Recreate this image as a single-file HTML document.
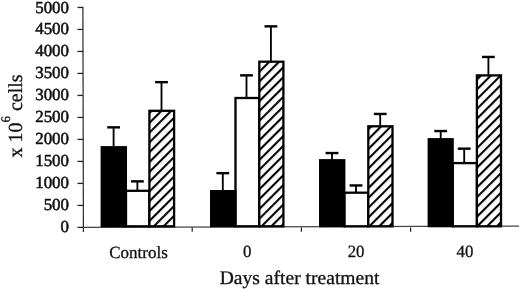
<!DOCTYPE html>
<html><head><meta charset="utf-8"><style>
html,body{margin:0;padding:0;background:#fff;}
body{width:520px;height:289px;overflow:hidden;}
svg{display:block;filter:blur(0.35px);}
text{font-family:"Liberation Serif",serif;fill:#111;stroke:#111;stroke-width:0.3px;text-rendering:geometricPrecision;}
</style></head><body>
<svg width="520" height="289" viewBox="0 0 520 289">
<defs>
<pattern id="h" patternUnits="userSpaceOnUse" x="4.394722215136416" y="0" width="6.930" height="6.930" patternTransform="rotate(45.000)">
<rect x="0" y="0" width="6.930" height="6.930" fill="#fff"/>
<rect x="0" y="0" width="2.1" height="6.930" fill="#000"/>
</pattern>
</defs>

<line x1="82.9" y1="6.8500000000000005" x2="83.4" y2="232" stroke="#2a2a2a" stroke-width="1.2"/>
<line x1="83.0" y1="227.4" x2="519" y2="226.1" stroke="#444" stroke-width="1.3"/>
<line x1="77.5" y1="227.40" x2="83.0" y2="227.40" stroke="#222" stroke-width="1.3"/>
<text transform="translate(69.0,232.45)" font-size="16.9" text-anchor="end" style="stroke-width:0.55px">0</text>
<line x1="77.5" y1="205.41" x2="83.0" y2="205.41" stroke="#222" stroke-width="1.3"/>
<text transform="translate(69.0,210.46)" font-size="16.9" text-anchor="end" style="stroke-width:0.55px">500</text>
<line x1="77.5" y1="183.41" x2="83.0" y2="183.41" stroke="#222" stroke-width="1.3"/>
<text transform="translate(69.0,188.46)" font-size="16.9" text-anchor="end" style="stroke-width:0.55px">1000</text>
<line x1="77.5" y1="161.42" x2="83.0" y2="161.42" stroke="#222" stroke-width="1.3"/>
<text transform="translate(69.0,166.47)" font-size="16.9" text-anchor="end" style="stroke-width:0.55px">1500</text>
<line x1="77.5" y1="139.42" x2="83.0" y2="139.42" stroke="#222" stroke-width="1.3"/>
<text transform="translate(69.0,144.47)" font-size="16.9" text-anchor="end" style="stroke-width:0.55px">2000</text>
<line x1="77.5" y1="117.43" x2="83.0" y2="117.43" stroke="#222" stroke-width="1.3"/>
<text transform="translate(69.0,122.48)" font-size="16.9" text-anchor="end" style="stroke-width:0.55px">2500</text>
<line x1="77.5" y1="95.43" x2="83.0" y2="95.43" stroke="#222" stroke-width="1.3"/>
<text transform="translate(69.0,100.48)" font-size="16.9" text-anchor="end" style="stroke-width:0.55px">3000</text>
<line x1="77.5" y1="73.43" x2="83.0" y2="73.43" stroke="#222" stroke-width="1.3"/>
<text transform="translate(69.0,78.48)" font-size="16.9" text-anchor="end" style="stroke-width:0.55px">3500</text>
<line x1="77.5" y1="51.44" x2="83.0" y2="51.44" stroke="#222" stroke-width="1.3"/>
<text transform="translate(69.0,56.49)" font-size="16.9" text-anchor="end" style="stroke-width:0.55px">4000</text>
<line x1="77.5" y1="29.44" x2="83.0" y2="29.44" stroke="#222" stroke-width="1.3"/>
<text transform="translate(69.0,34.49)" font-size="16.9" text-anchor="end" style="stroke-width:0.55px">4500</text>
<line x1="77.5" y1="7.45" x2="83.0" y2="7.45" stroke="#222" stroke-width="1.3"/>
<text transform="translate(69.0,12.50)" font-size="16.9" text-anchor="end" style="stroke-width:0.55px">5000</text>
<line x1="192.20" y1="227.4" x2="192.20" y2="231.8" stroke="#222" stroke-width="1.2"/>
<line x1="301.40" y1="227.4" x2="301.40" y2="231.8" stroke="#222" stroke-width="1.2"/>
<line x1="410.60" y1="227.4" x2="410.60" y2="231.8" stroke="#222" stroke-width="1.2"/>
<rect x="126.00" y="190.80" width="23.40" height="35.50" fill="#fff" stroke="#000" stroke-width="2.3"/>
<rect x="149.40" y="110.80" width="24.70" height="115.50" fill="url(#h)" stroke="#000" stroke-width="2.3"/>
<rect x="100.60" y="146.10" width="26.40" height="81.20" fill="#000"/>
<line x1="113.60" y1="127.20" x2="113.60" y2="146.60" stroke="#000" stroke-width="1.85"/>
<line x1="107.20" y1="127.35" x2="120.00" y2="127.35" stroke="#000" stroke-width="2.4"/>
<line x1="137.40" y1="181.20" x2="137.40" y2="190.30" stroke="#000" stroke-width="1.85"/>
<line x1="131.00" y1="181.35" x2="143.80" y2="181.35" stroke="#000" stroke-width="2.4"/>
<line x1="161.50" y1="82.00" x2="161.50" y2="110.30" stroke="#000" stroke-width="1.85"/>
<line x1="155.10" y1="82.15" x2="167.90" y2="82.15" stroke="#000" stroke-width="2.4"/>
<rect x="235.50" y="98.00" width="23.80" height="128.30" fill="#fff" stroke="#000" stroke-width="2.3"/>
<rect x="259.30" y="61.70" width="24.10" height="164.60" fill="url(#h)" stroke="#000" stroke-width="2.3"/>
<rect x="210.00" y="190.00" width="26.50" height="37.30" fill="#000"/>
<line x1="222.80" y1="173.00" x2="222.80" y2="190.50" stroke="#000" stroke-width="1.85"/>
<line x1="216.40" y1="173.15" x2="229.20" y2="173.15" stroke="#000" stroke-width="2.4"/>
<line x1="246.50" y1="75.20" x2="246.50" y2="97.50" stroke="#000" stroke-width="1.85"/>
<line x1="240.10" y1="75.35" x2="252.90" y2="75.35" stroke="#000" stroke-width="2.4"/>
<line x1="270.90" y1="26.20" x2="270.90" y2="61.20" stroke="#000" stroke-width="1.85"/>
<line x1="264.50" y1="26.35" x2="277.30" y2="26.35" stroke="#000" stroke-width="2.4"/>
<rect x="344.40" y="192.70" width="23.90" height="33.60" fill="#fff" stroke="#000" stroke-width="2.3"/>
<rect x="368.30" y="126.30" width="24.20" height="100.00" fill="url(#h)" stroke="#000" stroke-width="2.3"/>
<rect x="319.00" y="159.10" width="26.40" height="68.20" fill="#000"/>
<line x1="332.00" y1="152.90" x2="332.00" y2="159.60" stroke="#000" stroke-width="1.85"/>
<line x1="325.60" y1="153.05" x2="338.40" y2="153.05" stroke="#000" stroke-width="2.4"/>
<line x1="356.00" y1="185.30" x2="356.00" y2="192.20" stroke="#000" stroke-width="1.85"/>
<line x1="349.60" y1="185.45" x2="362.40" y2="185.45" stroke="#000" stroke-width="2.4"/>
<line x1="380.20" y1="113.80" x2="380.20" y2="125.80" stroke="#000" stroke-width="1.85"/>
<line x1="373.80" y1="113.95" x2="386.60" y2="113.95" stroke="#000" stroke-width="2.4"/>
<rect x="452.80" y="163.10" width="24.10" height="63.20" fill="#fff" stroke="#000" stroke-width="2.3"/>
<rect x="476.90" y="75.40" width="24.10" height="150.90" fill="url(#h)" stroke="#000" stroke-width="2.3"/>
<rect x="427.60" y="138.10" width="26.20" height="89.20" fill="#000"/>
<line x1="440.70" y1="130.90" x2="440.70" y2="138.60" stroke="#000" stroke-width="1.85"/>
<line x1="434.30" y1="131.05" x2="447.10" y2="131.05" stroke="#000" stroke-width="2.4"/>
<line x1="464.20" y1="148.50" x2="464.20" y2="162.60" stroke="#000" stroke-width="1.85"/>
<line x1="457.80" y1="148.65" x2="470.60" y2="148.65" stroke="#000" stroke-width="2.4"/>
<line x1="488.40" y1="56.80" x2="488.40" y2="74.90" stroke="#000" stroke-width="1.85"/>
<line x1="482.00" y1="56.95" x2="494.80" y2="56.95" stroke="#000" stroke-width="2.4"/>
<text transform="translate(138.50,257.6)" font-size="17.0" text-anchor="middle">Controls</text>
<text transform="translate(247.30,257.1) scale(0.98,1)" font-size="17.2" text-anchor="middle">0</text>
<text transform="translate(356.10,257.1) scale(0.98,1)" font-size="17.2" text-anchor="middle">20</text>
<text transform="translate(464.90,257.1) scale(0.98,1)" font-size="17.2" text-anchor="middle">40</text>
<text transform="translate(299.6,283.5) scale(1.02,1)" font-size="19.2" text-anchor="middle">Days after treatment</text>
<text transform="translate(21.6,116) rotate(-90)" font-size="20" text-anchor="middle">x 10<tspan font-size="13" dy="-11.5">6</tspan><tspan dy="11.5"> cells</tspan></text>
</svg>
</body></html>
